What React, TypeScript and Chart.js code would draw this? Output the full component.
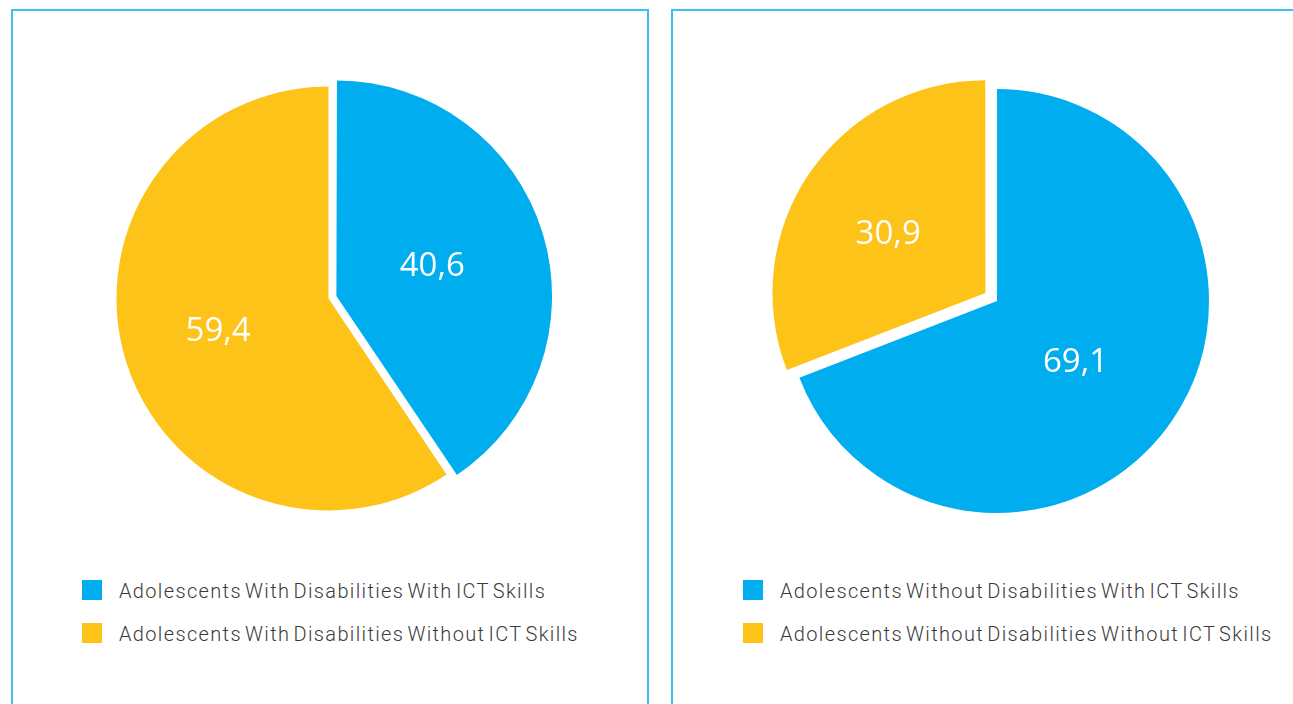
import React, { useEffect, useRef } from "react";
import { Chart, registerables } from "chart.js";

Chart.register(...registerables);

// ---- data ----
const leftCategories = [
  "Adolescents With Disabilities With ICT Skills",
  "Adolescents With Disabilities Without ICT Skills",
];
const leftValues = [40.6, 59.4];
const rightCategories = [
  "Adolescents Without Disabilities With ICT Skills",
  "Adolescents Without Disabilities Without ICT Skills",
];
const rightValues = [69.1, 30.9];
const sliceColors = ["#00aeef", "#fdc318"];
const leftOffsets = [33, 0];
const rightOffsets = [0, 56];

const fmt = (v: number) => v.toFixed(1).replace(".", ",");

const valueLabelPlugin = {
  id: "valueLabels",
  afterDatasetsDraw(chart: any) {
    const ctx = chart.ctx;
    const meta = chart.getDatasetMeta(0);
    const ds = chart.data.datasets[0];
    ctx.save();
    ctx.fillStyle = "#ffffff";
    ctx.font = "33px 'Open Sans', 'Noto Sans', sans-serif";
    ctx.textAlign = "center";
    ctx.textBaseline = "middle";
    meta.data.forEach((arc: any, i: number) => {
      const { x, y, startAngle, endAngle, outerRadius, circumference } = arc.getProps(
        ["x", "y", "startAngle", "endAngle", "outerRadius", "circumference"],
        true
      );
      const mid = (startAngle + endAngle) / 2;
      const off = ((ds.offset as number[])[i] || 0) / 4;
      const fix = 1 - Math.sin(Math.min(Math.PI, circumference || 0));
      const shift = off + off * fix;
      const r = outerRadius * 0.5 + shift;
      ctx.fillText(fmt(ds.data[i]), x + Math.cos(mid) * r - 9, y + Math.sin(mid) * r + 2);
    });
    ctx.restore();
  },
};

function PieChart(props: {
  labels: string[];
  values: number[];
  offsets: number[];
  size: number;
  left: number;
  top: number;
}) {
  const ref = useRef<HTMLCanvasElement | null>(null);
  useEffect(() => {
    if (!ref.current) return;
    const chart = new Chart(ref.current, {
      type: "pie",
      data: {
        labels: props.labels,
        datasets: [
          {
            data: props.values,
            backgroundColor: sliceColors,
            borderWidth: 0,
            offset: props.offsets,
            hoverOffset: 0,
          } as any,
        ],
      },
      options: {
        responsive: false,
        animation: false,
        events: [],
        layout: { padding: 0 },
        plugins: {
          legend: { display: false },
          tooltip: { enabled: false },
          title: { display: false },
        },
      },
      plugins: [valueLabelPlugin],
    });
    return () => chart.destroy();
  }, []);
  return (
    <canvas
      ref={ref}
      width={props.size}
      height={props.size}
      style={{ position: "absolute", left: props.left, top: props.top, width: props.size, height: props.size }}
    />
  );
}

function Legend(props: { labels: string[]; left: number; top: number }) {
  return (
    <>
      {props.labels.map((l, i) => (
        <div
          key={l}
          style={{
            position: "absolute",
            left: props.left,
            top: props.top + i * 43,
            height: 20,
            display: "flex",
            alignItems: "center",
            whiteSpace: "nowrap",
          }}
        >
          <span style={{ display: "inline-block", width: 20, height: 20, background: sliceColors[i] }} />
          <span
            style={{
              marginLeft: 17,
              marginTop: 2,
              fontFamily: "Roboto, 'Liberation Sans', sans-serif",
              fontWeight: 300,
              fontSize: 20,
              color: "#3a3a3a",
              letterSpacing: 1.35,
              wordSpacing: -3,
            }}
          >
            {l}
          </span>
        </div>
      ))}
    </>
  );
}

export default function App() {
  const border = "2px solid #3fc1f0";
  return (
    <div style={{ position: "absolute", left: 0, top: 0, width: 1293, height: 704, overflow: "hidden", background: "#fff" }}>
      <div style={{ position: "absolute", left: 11, top: 9, width: 634, height: 720, border }} />
      <div style={{ position: "absolute", left: 671, top: 9, width: 700, height: 720, border }} />
      <PieChart labels={leftCategories} values={leftValues} offsets={leftOffsets} size={457} left={100} top={70} />
      <PieChart labels={rightCategories} values={rightValues} offsets={rightOffsets} size={480} left={757} top={61} />
      <Legend labels={leftCategories} left={82} top={580} />
      <Legend labels={rightCategories} left={743} top={580} />
    </div>
  );
}
